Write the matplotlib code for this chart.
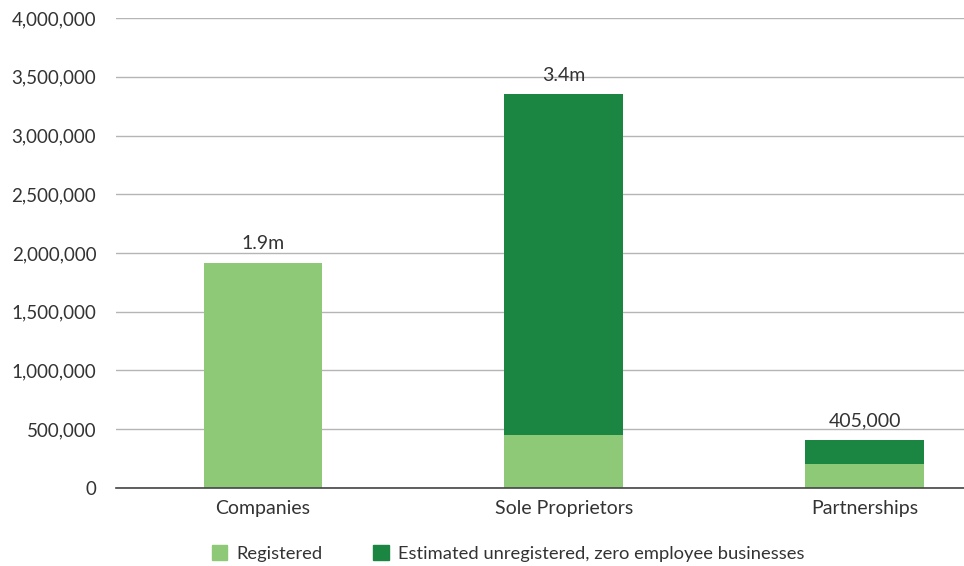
import matplotlib
matplotlib.use("Agg")
import matplotlib.pyplot as plt
from matplotlib.ticker import FuncFormatter
from matplotlib.patches import Patch

plt.rcParams['font.family'] = ['Lato', 'DejaVu Sans']

categories = ["Companies", "Sole Proprietors", "Partnerships"]
registered = [1917000, 451000, 205000]
unregistered = [0, 2902000, 200000]
labels = ["1.9m", "3.4m", "405,000"]

light = "#8DC977"
dark = "#1A8641"
text_col = "#333333"

fig = plt.figure(figsize=(9.64, 5.66), dpi=100)
ax = fig.add_axes([0.12, 0.138, 0.88, 0.83])

x = range(len(categories))
w = 0.395
ax.bar(x, registered, w, color=light, zorder=3)
ax.bar(x, unregistered, w, bottom=registered, color=dark, zorder=3)

for i in x:
    total = registered[i] + unregistered[i]
    ax.text(i, total + 90000, labels[i], ha="center", va="bottom",
            fontsize=14, color=text_col)

ax.set_ylim(0, 4000000)
ax.set_xlim(-0.49, 2.33)
ax.set_yticks(range(0, 4000001, 500000))
ax.yaxis.set_major_formatter(FuncFormatter(lambda v, p: f"{int(v):,}"))
ax.set_xticks(list(x))
ax.set_xticklabels(categories)
ax.grid(axis="y", color="#b5b5b5", linewidth=1, zorder=0)
for s in ["top", "right", "left"]:
    ax.spines[s].set_visible(False)
ax.spines["bottom"].set_color("#444444")
ax.spines["bottom"].set_linewidth(1.2)
ax.spines["bottom"].set_zorder(4)
ax.tick_params(axis="both", length=0, labelcolor=text_col)
ax.tick_params(axis="y", pad=14, labelsize=13.5)
ax.tick_params(axis="x", pad=9, labelsize=14)

handles = [Patch(color=light, label="Registered"),
           Patch(color=dark, label="Estimated unregistered, zero employee businesses")]
fig.legend(handles=handles, loc="center", bbox_to_anchor=(0.527, 0.022), ncol=2,
           frameon=False, fontsize=13.2, labelcolor=text_col,
           handlelength=0.85, handleheight=0.85, handletextpad=0.5, columnspacing=2.75)

fig.savefig("out.png", dpi=100, facecolor="white")
